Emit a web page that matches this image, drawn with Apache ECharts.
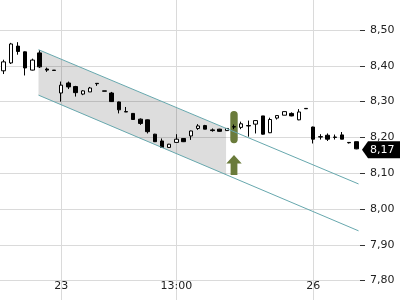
<!DOCTYPE html>
<html>
<head>
<meta charset="utf-8">
<script src="https://cdn.jsdelivr.net/npm/echarts@6/dist/echarts.min.js"></script>
<style>
  html, body { margin: 0; padding: 0; background: #fff; }
  #chart { width: 400px; height: 300px; }
</style>
</head>
<body>
<div id="chart"></div>
<script>
// ---- data ----
const categories = ['1','2','3','4','5','6','7','8','9','10',
  '11','12','13','14','15','16','17','18','19','20',
  '21','22','23','24','25','26','27','28','29','30',
  '31','32','33','34','35','36','37','38','39','40',
  '41','42','43','44','45','46','47','48','49','50'];

const opens = [8.386, 8.408, 8.455, 8.439, 8.388, 8.436, 8.391, 8.388, 8.324, 8.352,
  8.342, 8.321, 8.327, 8.351, 8.330, 8.324, 8.299, 8.272, 8.267, 8.251,
  8.249, 8.209, 8.190, 8.172, 8.186, 8.197, 8.204, 8.225, 8.233, 8.221,
  8.223, 8.219, 8.230, 8.228, 8.233, 8.237, 8.260, 8.213, 8.254, 8.262,
  8.267, 8.249, 8.281, 8.229, 8.202, 8.206, 8.201, 8.207, 8.186, 8.188];
const closes = [8.411, 8.461, 8.440, 8.394, 8.416, 8.397, 8.388, 8.387, 8.346, 8.341,
  8.325, 8.330, 8.338, 8.350, 8.329, 8.300, 8.277, 8.271, 8.250, 8.239,
  8.216, 8.188, 8.172, 8.181, 8.195, 8.188, 8.218, 8.232, 8.223, 8.219,
  8.217, 8.225, 8.229, 8.238, 8.232, 8.247, 8.209, 8.250, 8.261, 8.272,
  8.260, 8.271, 8.280, 8.195, 8.201, 8.195, 8.200, 8.195, 8.185, 8.168];
const lows = [8.377, 8.405, 8.431, 8.373, 8.387, 8.394, 8.383, 8.387, 8.300, 8.335,
  8.314, 8.318, 8.327, 8.344, 8.329, 8.299, 8.267, 8.271, 8.250, 8.235,
  8.211, 8.187, 8.171, 8.171, 8.186, 8.187, 8.193, 8.221, 8.223, 8.216,
  8.216, 8.219, 8.223, 8.223, 8.202, 8.211, 8.208, 8.212, 8.250, 8.262,
  8.259, 8.248, 8.280, 8.183, 8.194, 8.190, 8.194, 8.195, 8.183, 8.167];
const highs = [8.417, 8.464, 8.466, 8.440, 8.420, 8.444, 8.395, 8.388, 8.356, 8.356,
  8.344, 8.332, 8.341, 8.351, 8.330, 8.327, 8.300, 8.285, 8.268, 8.253,
  8.250, 8.210, 8.197, 8.182, 8.209, 8.198, 8.219, 8.237, 8.235, 8.225,
  8.224, 8.225, 8.236, 8.244, 8.247, 8.247, 8.260, 8.255, 8.261, 8.272,
  8.270, 8.279, 8.281, 8.230, 8.209, 8.211, 8.208, 8.215, 8.186, 8.188];

// x-axis tick labels (category index -> text)
const tickIndices = [8, 24, 43];
const tickLabels = ['23', '13:00', '26'];

// y-axis ticks
const yMin = 7.7, yMax = 8.6, yStep = 0.1;

// trend channel (x = candle position, y = price)
const channelUpper = [[4.85, 8.445], [49.3, 8.070]];
const channelLower = [[4.85, 8.318], [49.3, 7.939]];
const channelShade = [[4.85, 8.445], [30.9, 8.225], [30.9, 8.096], [4.85, 8.318]];

// signal marker: [candle index, bar top, bar bottom, arrow top, arrow bottom]
const signal = [32, 8.274, 8.184, 8.151, 8.095];

// last price
const lastIndex = 49;
const lastPrice = closes[closes.length - 1];

// ---- chart ----
const candleData = categories.map((c, i) => [opens[i], closes[i], lows[i], highs[i]]);
const fmt = v => v.toFixed(2).replace('.', ',');
const FONT = 'DejaVu Sans';

const chart = echarts.init(document.getElementById('chart'), null, { renderer: 'canvas' });
chart.setOption({
  animation: false,
  backgroundColor: '#fff',
  grid: { left: 0, right: 40, top: -5.8, bottom: -16.4, containLabel: false, outerBoundsMode: 'none' },
  xAxis: [{
    type: 'category',
    data: categories,
    boundaryGap: true,
    offset: -36,
    axisLine: { show: false, onZero: false },
    axisTick: { show: false },
    axisLabel: {
      margin: 0,
      color: '#222',
      fontSize: 11,
      fontFamily: FONT,
      interval: (idx) => tickIndices.indexOf(idx) >= 0,
      formatter: (val, idx) => {
        const k = tickIndices.indexOf(idx);
        return k >= 0 ? tickLabels[k] : '';
      }
    },
    splitLine: {
      show: true,
      alignWithLabel: true,
      interval: (idx) => tickIndices.indexOf(idx) >= 0,
      lineStyle: { color: '#dadada', width: 1 }
    }
  }, {
    type: 'value',
    min: -0.5,
    max: categories.length - 0.5,
    show: false
  }],
  yAxis: [{
    type: 'value',
    position: 'right',
    min: yMin,
    max: yMax,
    interval: yStep,
    axisLine: { show: false, onZero: false },
    axisTick: { show: true, length: 5, lineStyle: { color: '#333', width: 1 } },
    axisLabel: {
      margin: 10,
      color: '#222',
      fontSize: 11,
      fontFamily: FONT,
      showMinLabel: false,
      showMaxLabel: false,
      formatter: fmt
    },
    splitLine: { show: true, lineStyle: { color: '#dadada', width: 1 } }
  }],
  series: [
    {
      type: 'custom',
      xAxisIndex: 1,
      z: 1,
      data: [0],
      renderItem: (params, api) => {
        const pts = channelShade.map(p => api.coord(p));
        return { type: 'polygon', shape: { points: pts }, style: { fill: 'rgba(0,0,0,0.135)' } };
      }
    },
    {
      type: 'custom',
      xAxisIndex: 0,
      z: 2,
      data: [signal],
      renderItem: (params, api) => {
        const top = api.coord([api.value(0), api.value(1)]);
        const bot = api.coord([api.value(0), api.value(2)]);
        const aTop = api.coord([api.value(0), api.value(3)]);
        const aBot = api.coord([api.value(0), api.value(4)]);
        const cx = top[0];
        const color = '#6a7b3b';
        const headH = 8.5;
        return {
          type: 'group',
          children: [
            { type: 'rect', shape: { x: cx - 3.7, y: top[1], width: 7.4, height: bot[1] - top[1], r: 3.7 }, style: { fill: color } },
            { type: 'polygon', shape: { points: [
              [cx, aTop[1]], [cx + 7.7, aTop[1] + headH], [cx + 3.4, aTop[1] + headH],
              [cx + 3.4, aBot[1]], [cx - 3.4, aBot[1]], [cx - 3.4, aTop[1] + headH],
              [cx - 7.7, aTop[1] + headH]
            ] }, style: { fill: color } }
          ]
        };
      }
    },
    {
      type: 'candlestick',
      xAxisIndex: 0,
      z: 3,
      barWidth: 4,
      data: candleData,
      itemStyle: {
        color: '#ffffff',
        color0: '#000000',
        borderColor: '#000000',
        borderColor0: '#000000',
        borderWidth: 1
      }
    },
    {
      type: 'line',
      xAxisIndex: 1,
      z: 4,
      symbol: 'none',
      data: channelUpper,
      lineStyle: { color: '#67a8ae', width: 1 }
    },
    {
      type: 'line',
      xAxisIndex: 1,
      z: 4,
      symbol: 'none',
      data: channelLower,
      lineStyle: { color: '#67a8ae', width: 1 }
    },
    {
      type: 'custom',
      xAxisIndex: 0,
      z: 6,
      clip: false,
      data: [[lastIndex, lastPrice]],
      renderItem: (params, api) => {
        const p = api.coord([api.value(0), api.value(1)]);
        const right = params.coordSys.x + params.coordSys.width;
        const y = p[1] + 1;
        const h = 8.5;
        return {
          type: 'group',
          children: [
            { type: 'polygon', shape: { points: [
              [right + 2, y], [right + 8, y - h], [right + 45, y - h], [right + 45, y + h], [right + 8, y + h]
            ] }, style: { fill: '#000' } },
            { type: 'text', style: {
              text: fmt(api.value(1)), x: right + 10, y: y,
              fill: '#fff', fontSize: 11, fontFamily: FONT,
              align: 'left', verticalAlign: 'middle'
            } }
          ]
        };
      }
    }
  ]
});
</script>
</body>
</html>
